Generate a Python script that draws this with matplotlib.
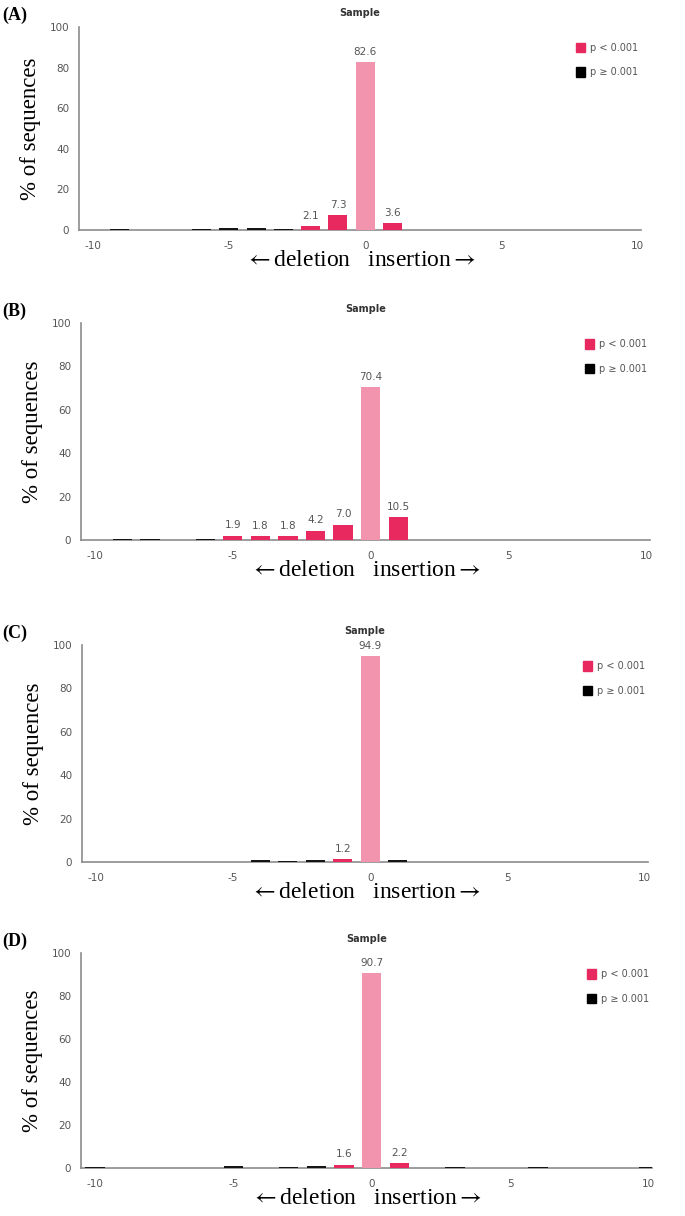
import matplotlib.pyplot as plt
from matplotlib.patches import Patch

plt.rcParams["axes.unicode_minus"] = False
plt.rcParams["mathtext.fontset"] = "stix"

# indel length (bp) per panel, % of sequences, significance (1 = p < 0.001)
a_pos = [-9, -6, -5, -4, -3, -2, -1, 0, 1]
a_val = [0.4, 0.4, 0.8, 0.8, 0.4, 2.1, 7.3, 82.6, 3.6]
a_sig = [0, 0, 0, 0, 0, 1, 1, 1, 1]

b_pos = [-9, -8, -6, -5, -4, -3, -2, -1, 0, 1]
b_val = [0.4, 0.4, 0.4, 1.9, 1.8, 1.8, 4.2, 7.0, 70.4, 10.5]
b_sig = [0, 0, 0, 1, 1, 1, 1, 1, 1, 1]

c_pos = [-4, -3, -2, -1, 0, 1]
c_val = [0.7, 0.4, 0.7, 1.2, 94.9, 0.7]
c_sig = [0, 0, 0, 1, 1, 0]

d_pos = [-10, -5, -3, -2, -1, 0, 1, 3, 6, 10]
d_val = [0.4, 0.8, 0.4, 1.0, 1.6, 90.7, 2.2, 0.4, 0.4, 0.4]
d_sig = [0, 0, 0, 0, 1, 1, 1, 0, 0, 0]

panel_tags = ["(A)", "(B)", "(C)", "(D)"]
x_ticks = [-10, -5, 0, 5, 10]
y_ticks = [0, 20, 40, 60, 80, 100]
legend_labels = ["p < 0.001", "p \u2265 0.001"]

RED = "#e8295f"
PINK = "#f394ae"
DARK = "#151515"
GRID = "#8c8c8c"
TXT = "#555555"
SERIF = ["Liberation Serif", "DejaVu Serif"]

W, H = 685, 1216
fig = plt.figure(figsize=(W / 100, H / 100), dpi=100)

# axes boxes in pixels: left, right, y of 100, y of 0
boxes = [(79, 641, 27, 230), (81, 650, 323, 540), (82, 648, 645, 862), (81, 652, 953, 1168)]
data = [(a_pos, a_val, a_sig), (b_pos, b_val, b_sig), (c_pos, c_val, c_sig), (d_pos, d_val, d_sig)]

for tag, (l, r, t, b), (pos, val, sig) in zip(panel_tags, boxes, data):
    ax = fig.add_axes([l / W, 1 - b / H, (r - l) / W, (b - t) / H])
    colors = []
    for p, s in zip(pos, sig):
        if p == 0:
            colors.append(PINK)
        elif s:
            colors.append(RED)
        else:
            colors.append(DARK)
    ax.bar(pos, val, width=0.7, color=colors, zorder=3)
    for p, v, s in zip(pos, val, sig):
        if s:
            ax.text(p, v + 2.5, f"{v:.1f}", ha="center", va="bottom", fontsize=7.5, color=TXT)

    ax.set_xlim(-10.5, 10.12)
    ax.set_ylim(0, 100)
    ax.set_xticks(x_ticks)
    ax.set_yticks(y_ticks)
    ax.tick_params(length=0, labelsize=7.5, colors=TXT, pad=8)
    ax.tick_params(axis="y", pad=7)
    for side in ["top", "right"]:
        ax.spines[side].set_visible(False)
    for side in ["left", "bottom"]:
        ax.spines[side].set_color(GRID)
        ax.spines[side].set_linewidth(1.2)
        ax.spines[side].set_zorder(2)

    ax.set_title("Sample", fontsize=7, fontweight="bold", color="#333333", pad=8)
    ax.set_ylabel("% of sequences", family=SERIF, fontsize=16.5, labelpad=6, color="black")
    ax.set_xlabel(r"$\leftarrow$deletion   insertion$\rightarrow$", family=SERIF,
                  fontsize=17, labelpad=-1)

    handles = [Patch(color=RED), Patch(color="black")]
    ax.legend(handles, legend_labels, loc="upper right", bbox_to_anchor=(1.01, 0.965),
              frameon=False, fontsize=7, labelcolor=TXT, handlelength=0.9, handleheight=1.1,
              handletextpad=0.5, labelspacing=1.5)

    fig.text(2 / W, 1 - (t - 12) / H, tag, family=SERIF, fontsize=13, fontweight="bold",
             va="center", ha="left")

fig.savefig("out.png", dpi=100)
